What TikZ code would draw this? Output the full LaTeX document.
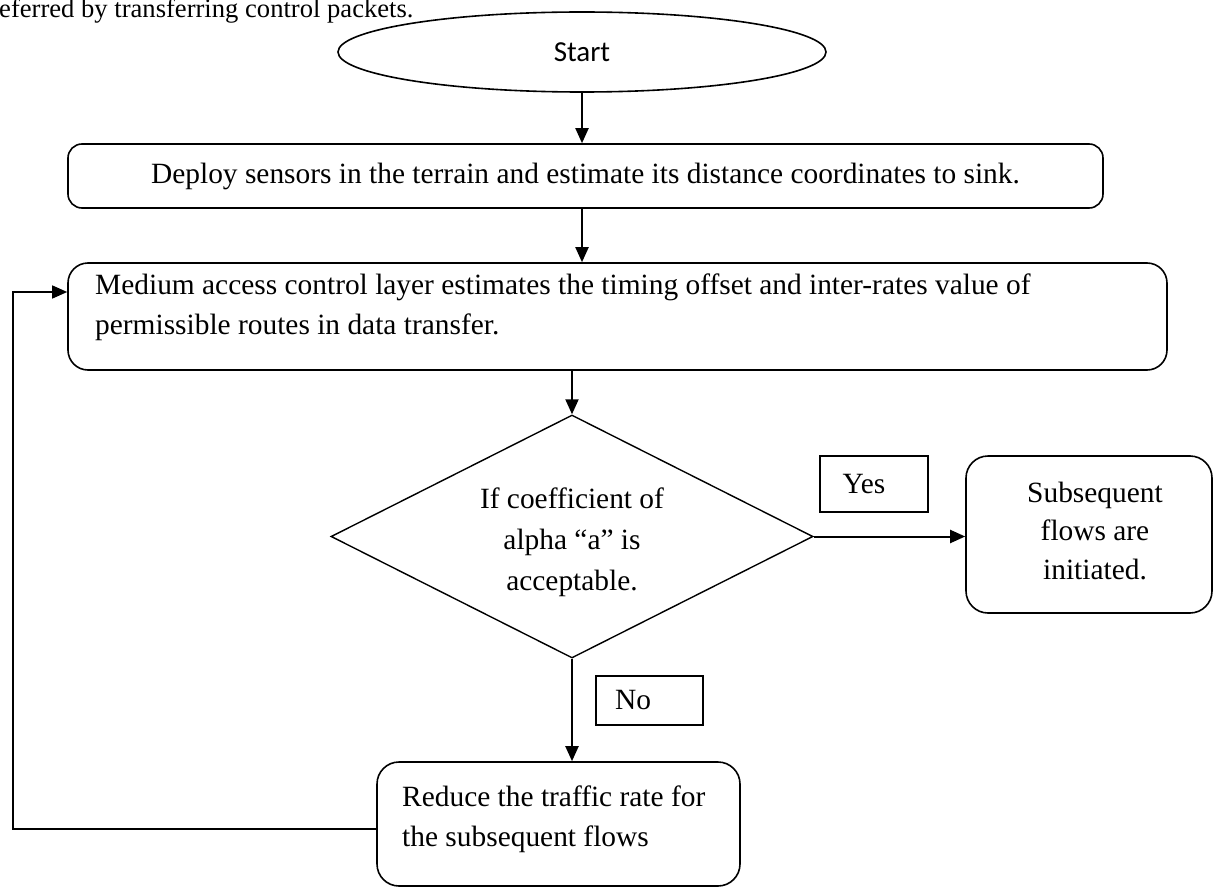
\documentclass[tikz,border=0pt]{standalone}
\usepackage{fontspec}
\setmainfont{Liberation Serif}
\newfontfamily\startfont{Carlito}
\usetikzlibrary{shapes.geometric,arrows.meta}
\begin{document}
\begin{tikzpicture}[x=1pt,y=-1pt,
  every node/.style={font=\fontsize{29.4}{40}\selectfont},
  rbox/.style={draw,line width=1.6pt,rounded corners=14pt,inner sep=0pt},
  lbox/.style={draw,line width=1.3pt,inner sep=0pt},
  arr/.style={line width=2pt,-{Triangle[length=15pt,width=13pt]}},
  plain/.style={line width=1.4pt}]
\useasboundingbox (0,0) rectangle (1214,888);

\node[anchor=base west,inner sep=0pt,font=\fontsize{26.6}{30}\selectfont] (top) at (-1,17.5) {eferred by transferring control packets.};

\node[draw,ellipse,line width=1.6pt,minimum width=488pt,minimum height=80pt,inner sep=0pt,
      font=\startfont\fontsize{29}{32}\selectfont] (start) at (582,52) {Start};

\node[rbox,minimum width=1035pt,minimum height=64pt] (deploy) at (585.5,176)
  {Deploy sensors in the terrain and estimate its distance coordinates to sink.};

\node[rbox,rounded corners=20pt,minimum width=1099pt,minimum height=107pt] (medium) at (617.5,316.5) {};
\node[anchor=north west,align=left,inner sep=0pt] (mediumtxt) at (95,274)
  {Medium access control layer estimates the timing offset and inter-rates value of\\
   permissible routes in data transfer.};

\node[draw,diamond,line width=1.4pt,minimum width=482pt,minimum height=243pt,inner sep=0pt] (dia) at (572,536.5) {};
\node[align=center,inner sep=0pt,font=\fontsize{29.4}{41}\selectfont] (diatxt) at (572,542)
  {If coefficient of\\alpha “a” is\\acceptable.};

\node[lbox,minimum width=108pt,minimum height=56pt] (yes) at (874,484) {Yes\hspace*{20pt}};

\node[rbox,rounded corners=22pt,minimum width=246pt,minimum height=157pt] (sub) at (1089,534.5) {};
\node[align=center,inner sep=0pt,font=\fontsize{29.4}{38.5}\selectfont] (subtxt) at (1095,531)
  {Subsequent\\flows are\\initiated.};

\node[lbox,minimum width=107pt,minimum height=49pt] (no) at (649.5,700.5) {No\hspace*{33pt}};

\node[rbox,rounded corners=22pt,minimum width=363pt,minimum height=124pt] (reduce) at (558.5,824) {};
\node[anchor=north west,align=left,inner sep=0pt] (reducetxt) at (402,786)
  {Reduce the traffic rate for\\the subsequent flows};

\coordinate (fb) at (13,292);

\draw[arr] (start.south) -- (start.south |- deploy.north);
\draw[arr] (start.south |- deploy.south) -- (start.south |- medium.north);
\draw[arr] (dia.north |- medium.south) -- (dia.north);
\draw[arr] (dia.east) -- (dia.east -| sub.west);
\draw[arr] (dia.south) -- (dia.south |- reduce.north);
\draw[arr,line width=1.4pt] ([yshift=-5pt]reduce.west) -| (fb) -- (medium.west |- fb);
\end{tikzpicture}
\end{document}
